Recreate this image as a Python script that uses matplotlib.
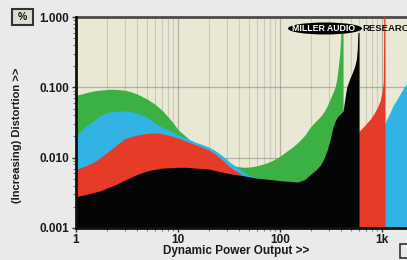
import numpy as np
import matplotlib.pyplot as plt
from matplotlib.patches import Ellipse, Rectangle

plt.rcParams['font.family'] = ['Liberation Sans', 'DejaVu Sans']
plt.rcParams['font.weight'] = 'bold'

# power (W) and distortion (%), one set per trace
green_x = [1, 1.15, 1.3, 1.5, 1.7, 2, 2.2, 2.6, 3, 3.5, 4, 5, 6, 7, 8, 9, 10, 11.5, 13,
           15, 17, 20, 22, 25, 28, 32, 35, 40, 45, 52, 60, 70, 80, 90,
           100, 115, 134, 150, 165, 180, 197, 220, 247, 270, 289, 315, 346, 360, 370,
           385, 396, 415]
green_y = [0.077, 0.081, 0.085, 0.089, 0.091, 0.093, 0.094, 0.093, 0.091, 0.086, 0.08,
           0.068, 0.057, 0.047, 0.038, 0.031, 0.025, 0.021, 0.018,
           0.0155, 0.0137, 0.0118, 0.0108, 0.0096, 0.0088, 0.0081, 0.0077, 0.0074,
           0.0073, 0.0074, 0.0077, 0.0082, 0.0088, 0.0096,
           0.0105, 0.0122, 0.0143, 0.0165, 0.019, 0.022, 0.027, 0.032, 0.038, 0.045,
           0.054, 0.072, 0.1, 0.13, 0.18, 0.3, 0.6, 0.6]

blue_x = [1, 1.2, 1.5, 1.75, 2, 2.5, 3, 3.5, 4, 4.7, 5.5, 6.2, 7, 8.5, 10, 12, 15, 17.5,
          20, 23, 26, 29, 32, 36, 40, 45, 50, 100, 300, 600, 900,
          1000, 1100, 1200, 1280, 1394, 1500, 1620, 1760, 2000]
blue_y = [0.020, 0.027, 0.034, 0.040, 0.044, 0.046, 0.046, 0.045, 0.043, 0.039,
          0.034, 0.030, 0.027, 0.024, 0.021, 0.019, 0.0165, 0.0153,
          0.0142, 0.0127, 0.0112, 0.0099, 0.0087, 0.0077, 0.0069, 0.0062, 0.0056,
          0.004, 0.004, 0.01, 0.02,
          0.026, 0.034, 0.044, 0.055, 0.066, 0.08, 0.097, 0.116, 0.17]

red_x = [1, 1.25, 1.5, 1.75, 2, 2.5, 3, 3.5, 4, 4.7, 5.5, 6.2, 7, 8.5, 10, 12, 15, 17.5,
         20, 23, 26, 29, 32, 36, 40, 60, 100, 200, 400, 582,
         680, 763, 840, 913, 960, 1000, 1030, 1040, 1070]
red_y = [0.0068, 0.0077, 0.0087, 0.0101, 0.0117, 0.0152, 0.0185, 0.020, 0.021, 0.0219,
         0.0225, 0.0224, 0.0218, 0.0205, 0.019, 0.0172, 0.0152, 0.014,
         0.0129, 0.0113, 0.0098, 0.0085, 0.0074, 0.0066, 0.006, 0.004, 0.0035, 0.004,
         0.01, 0.023, 0.029, 0.035, 0.043, 0.054, 0.065, 0.085, 0.12, 1.0, 1.0]

black_x = [1, 1.25, 1.5, 1.75, 2, 2.5, 3, 3.5, 4, 4.7, 5.5, 6.2, 7, 8.5, 10, 12, 15, 20,
           26, 35, 45, 60, 80, 100, 125, 150, 175, 200, 225, 250, 270, 290, 310, 330,
           350, 370, 392, 415, 450, 480, 510, 540, 560, 572, 580, 595]
black_y = [0.0028, 0.003, 0.0032, 0.0034, 0.0037, 0.0042, 0.0048, 0.0053, 0.0058,
           0.0063, 0.0067, 0.0069, 0.0071, 0.0072, 0.0073, 0.0073, 0.0071, 0.0069,
           0.0063, 0.0058, 0.0055, 0.0051, 0.0049, 0.0047, 0.0046, 0.0045, 0.0049,
           0.0058, 0.0067, 0.0079, 0.0098, 0.0128, 0.018, 0.027,
           0.034, 0.039, 0.042, 0.046, 0.1, 0.13, 0.16, 0.2, 0.25, 0.35, 0.6, 0.6]

fig = plt.figure(figsize=(4.07, 2.6), dpi=100, facecolor='#eaeaeb')
ax = fig.add_axes([0.1867, 0.1231, 0.8715, 0.8115])
ax.set_facecolor('#e9e8d5')
ax.set_xscale('log')
ax.set_yscale('log')
ax.set_xlim(1, 3000)
ax.set_ylim(0.001, 1.0)

base = 0.001
ax.fill_between(green_x, base, green_y, color='#3bb144', lw=0, zorder=2)
ax.fill_between(blue_x, base, blue_y, color='#31b3e4', lw=0, zorder=3)
ax.fill_between(red_x, base, red_y, color='#e63b26', lw=0, zorder=4)
ax.fill_between(black_x, base, black_y, color='#050505', lw=0, zorder=5)

ax.grid(True, which='minor', axis='x', color='#8a8a80', alpha=0.3, lw=0.8, zorder=6)
ax.grid(True, which='major', axis='both', color='#707068', alpha=0.45, lw=0.9, zorder=6)
ax.grid(False, which='minor', axis='y')

ax.set_yticks([0.001, 0.01, 0.1, 1.0])
ax.set_yticklabels(['0.001', '0.010', '0.100', '1.000'])
ax.set_xticks([1, 10, 100, 1000, 2000])
ax.set_xticklabels(['1', '10', '100', '1k', '2k'])
ax.tick_params(axis='both', which='major', labelsize=8.5, length=3, width=1,
               direction='out', color='#333333', pad=2)
ax.tick_params(axis='x', which='major', pad=1)
ax.tick_params(axis='both', which='minor', length=2, width=0.8, color='#777777')
for lab in ax.get_xticklabels() + ax.get_yticklabels():
    lab.set_fontweight('bold')
    lab.set_color('#1a1a1a')

for side in ['left', 'bottom']:
    ax.spines[side].set_linewidth(2)
    ax.spines[side].set_color('#111111')
    ax.spines[side].set_zorder(8)
ax.spines['top'].set_linewidth(2)
ax.spines['top'].set_color('#4a4a4a')
ax.spines['right'].set_visible(False)

fig.text(236 / 407, 1 - 251 / 260, 'Dynamic Power Output >>', fontsize=8.5,
         fontweight='bold', color='#1a1a1a', ha='center', va='center')
fig.text(0.042, 0.48, '(Increasing) Distortion >>', rotation=90, fontsize=8,
         fontweight='bold', color='#1a1a1a', ha='center', va='center')

# % unit box
fig.patches.append(Rectangle((12 / 407, 1 - 25 / 260), 21 / 407, 16 / 260,
                             transform=fig.transFigure, facecolor='#dcdcd0',
                             edgecolor='#333333', lw=1.5))
fig.text(22.5 / 407, 1 - 17 / 260, '%', fontsize=7.5, fontweight='bold',
         ha='center', va='center', color='#111111')

# W unit box at bottom right (cut off)
fig.patches.append(Rectangle((400 / 407, 1 - 258 / 260), 20 / 407, 14 / 260,
                             transform=fig.transFigure, facecolor='#eaeaeb',
                             edgecolor='#333333', lw=1.2))

# logo
fig.patches.append(Ellipse((325 / 407, 1 - 28.5 / 260), 74 / 407, 12 / 260,
                           transform=fig.transFigure, facecolor='black',
                           edgecolor='none', zorder=10))
fig.text(324 / 407, 1 - 28.5 / 260, 'MILLER AUDIO', fontsize=6.3, fontweight='bold',
         color='white', ha='center', va='center', zorder=11)
fig.text(362 / 407, 1 - 28 / 260, 'RESEARCH', fontsize=6.8, fontweight='bold',
         color='#111111', ha='left', va='center', zorder=11)

fig.savefig('out.png', dpi=100, facecolor=fig.get_facecolor())
